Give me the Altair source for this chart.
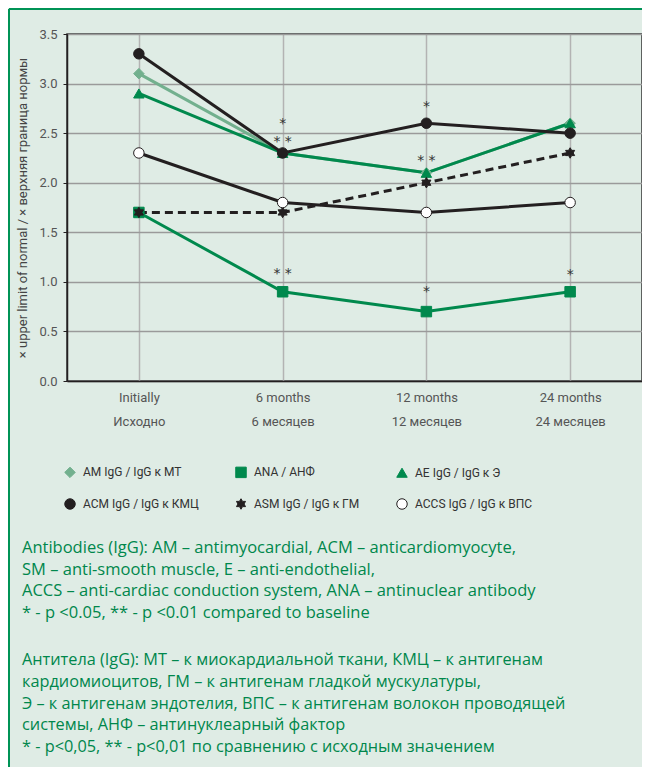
import altair as alt
import pandas as pd

categories = ["Initially|Исходно", "6 months|6 месяцев", "12 months|12 месяцев", "24 months|24 месяцев"]

series_names = [
    "AM IgG / IgG к МТ",
    "ACM IgG / IgG к КМЦ",
    "ANA / АНФ",
    "ASM IgG / IgG к ГМ",
    "AE IgG / IgG к Э",
    "ACCS IgG / IgG к ВПС",
]

am = [3.1, 2.3, 2.1, 2.6]
acm = [3.3, 2.3, 2.6, 2.5]
ana = [1.7, 0.9, 0.7, 0.9]
asm = [1.7, 1.7, 2.0, 2.3]
ae = [2.9, 2.3, 2.1, 2.6]
accs = [2.3, 1.8, 1.7, 1.8]

ann_cat = [categories[1], categories[1], categories[2], categories[2], categories[1], categories[2], categories[3]]
ann_y = [2.63, 2.45, 2.80, 2.26, 1.12, 0.94, 1.11]
ann_text = ["*", "* *", "*", "* *", "* *", "*", "*"]

eng_lines = [
    "Antibodies (IgG): AM – antimyocardial, ACM – anticardiomyocyte,",
    "SM – anti-smooth muscle, E – anti-endothelial,",
    "ACCS – anti-cardiac conduction system, ANA – antinuclear antibody",
    "* - p <0.05, ** - p <0.01 compared to baseline",
]
rus_lines = [
    "Антитела (IgG): МТ – к миокардиальной ткани, КМЦ – к антигенам",
    "кардиомиоцитов, ГМ – к антигенам гладкой мускулатуры,",
    "Э – к антигенам эндотелия, ВПС – к антигенам волокон проводящей",
    "системы, АНФ – антинуклеарный фактор",
    "* - p<0,05, ** - p<0,01 по сравнению с исходным значением",
]

GREEN = "#00894d"
LGREEN = "#72b08e"
BLACK = "#231f20"
stroke_colors = [LGREEN, BLACK, GREEN, BLACK, GREEN, BLACK]
fill_colors = [LGREEN, BLACK, GREEN, BLACK, GREEN, "#ffffff"]
star6 = "M0,-1L0.289,-0.5L0.866,-0.5L0.577,0L0.866,0.5L0.289,0.5L0,1L-0.289,0.5L-0.866,0.5L-0.577,0L-0.866,-0.5L-0.289,-0.5Z"
shapes = ["diamond", "circle", "square", star6, "triangle-up", "circle"]

all_vals = [am, acm, ana, asm, ae, accs]
draw_order = [0, 4, 2, 3, 5, 1]
rows = []
for i in draw_order:
    for c, v in zip(categories, all_vals[i]):
        rows.append({"series": series_names[i], "lcolor": stroke_colors[i], "cat": c, "val": v})
df = pd.DataFrame(rows)
ann_df = pd.DataFrame({"cat": ann_cat, "val": ann_y, "label": ann_text})
dummy = pd.DataFrame({"a": [0]})

FONT = "Roboto"
TFONT = "Open Sans"

x_enc = alt.X("cat:N", sort=categories, scale=alt.Scale(type="point", padding=0.5, domain=categories),
              axis=alt.Axis(title=None, labelExpr="split(datum.label, '|')", labelFontSize=13,
                            labelColor="#555", labelLineHeight=24, labelPadding=10, ticks=False,
                            grid=True, gridColor="#b3b3b3", gridWidth=1.5, domainColor=BLACK,
                            domainWidth=1.5, labelAngle=0, labelFont=FONT))
y_enc = alt.Y("val:Q", scale=alt.Scale(domain=[0, 3.5], nice=False),
              axis=alt.Axis(title="× upper limit of normal / × верхняя граница нормы", values=[0, 0.5, 1, 1.5, 2, 2.5, 3, 3.5],
                            format=".1f", labelFontSize=13, labelColor="#555", labelFont=FONT,
                            tickSize=4, tickColor=BLACK, domainColor=BLACK, domainWidth=1.5,
                            gridColor="#9a9a9a", gridWidth=1.5, titleFontSize=13,
                            titleColor="#444", titleFont=FONT, titleFontWeight="normal", titlePadding=9,
                            labelPadding=6))

stroke_scale = alt.Scale(domain=series_names, range=stroke_colors)
fill_scale = alt.Scale(domain=series_names, range=fill_colors)
shape_scale = alt.Scale(domain=series_names, range=shapes)

border_left = alt.Chart(dummy).mark_rule(color="#009356", strokeWidth=2).encode(
    x=alt.value(-58), y=alt.value(-25), y2=alt.value(735))
border_top = alt.Chart(dummy).mark_rule(color="#009356", strokeWidth=2).encode(
    x=alt.value(-58), x2=alt.value(575), y=alt.value(-25))

solid = alt.Chart(df).transform_filter(alt.datum.series != series_names[3]).mark_line(strokeWidth=3).encode(
    x=x_enc, y=y_enc, color=alt.Color("lcolor:N", scale=None), detail="series:N")
dashed = alt.Chart(df).transform_filter(alt.datum.series == series_names[3]).mark_line(
    strokeWidth=3, strokeDash=[8, 5]).encode(
    x=x_enc, y=y_enc, color=alt.Color("lcolor:N", scale=None))

leg = alt.Legend(title=None, orient="none", legendX=-3, legendY=432, columns=3, columnPadding=34,
                 rowPadding=16, labelFontSize=12, labelColor="#333", labelFont=FONT,
                 symbolSize=110, symbolStrokeWidth=1, padding=0, labelOffset=7, direction="vertical")
points = alt.Chart(df).mark_point(size=110, opacity=1, strokeWidth=1, filled=False).encode(
    x=x_enc, y=y_enc,
    fill=alt.Fill("series:N", scale=fill_scale, legend=leg),
    stroke=alt.Stroke("series:N", scale=stroke_scale, legend=leg),
    shape=alt.Shape("series:N", scale=shape_scale, legend=leg),
)

ann = alt.Chart(ann_df).mark_text(fontSize=14, color="#333", font="DejaVu Sans", baseline="middle", dy=4).encode(
    x=x_enc, y=y_enc, text="label:N")

eng = alt.Chart(dummy).mark_text(text=eng_lines, align="left", baseline="top", fontSize=16.5, lineHeight=21.6,
                                 color="#00874c", font=TFONT).encode(x=alt.value(-45), y=alt.value(506))
rus = alt.Chart(dummy).mark_text(text=rus_lines, align="left", baseline="top", fontSize=16.3, lineHeight=21.8,
                                 color="#00874c", font=TFONT).encode(x=alt.value(-45), y=alt.value(618))

chart = alt.layer(border_left, border_top, solid, dashed, points, ann, eng, rus).properties(
    width=575, height=347,
    autosize=alt.AutoSizeParams(type="none"),
    padding={"left": 59, "top": 26, "right": 0, "bottom": 386},
    background="#dfece5",
).configure_view(stroke="#333", strokeWidth=1.5)

chart.save("out.html", embed_options={"renderer": "svg", "actions": False})
